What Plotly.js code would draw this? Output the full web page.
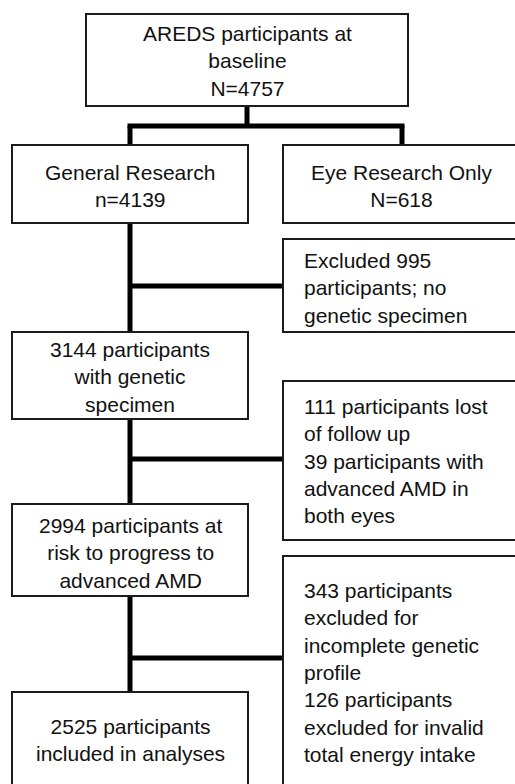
<!DOCTYPE html>
<html>
<head>
<meta charset="utf-8">
<script src="https://cdn.plot.ly/plotly-3.0.1.min.js"></script>
<style>html,body{margin:0;padding:0;background:#fff;}#chart{width:515px;height:784px;}</style>
</head>
<body>
<div id="chart"></div>
<script>
// ---- content (text of each box) ----
const rootText = ["AREDS participants at", "baseline", "N=4757"];
const armTexts = [
  ["General Research", "n=4139"],
  ["Eye Research Only", "N=618"]
];
const mainTexts = [
  ["3144 participants", "with genetic", "specimen"],
  ["2994 participants at", "risk to progress to", "advanced AMD"],
  ["2525 participants", "included in analyses"]
];
const exclusionTexts = [
  ["Excluded 995", "participants; no", "genetic specimen"],
  ["111 participants lost", "of follow up", "39 participants with", "advanced AMD in", "both eyes"],
  ["343 participants", "excluded for", "incomplete genetic", "profile", "126 participants", "excluded for invalid", "total energy intake"]
];

// ---- layout geometry (pixel space of the 515x784 canvas) ----
const rootBox = {x0: 86, x1: 408, y0: 14, y1: 106, cy: 61};
const armBoxes = [
  {x0: 12, x1: 248, y0: 145, y1: 223, cy: 186},
  {x0: 283, x1: 519, y0: 145, y1: 223, cy: 186}
];
const mainBoxes = [
  {x0: 12, x1: 248, y0: 332, y1: 419, cy: 377},
  {x0: 12, x1: 248, y0: 504, y1: 596, cy: 553},
  {x0: 12, x1: 248, y0: 692, y1: 800, cy: 740}
];
const exclBoxes = [
  {x0: 283, x1: 519, y0: 239, y1: 332, cy: 288, branchY: 286},
  {x0: 283, x1: 519, y0: 381, y1: 540, cy: 461, branchY: 459},
  {x0: 283, x1: 519, y0: 556, y1: 800, cy: 672, branchY: 658}
];
const trunkX = 130;
const splitY = 126;

const FONT = {family: "Liberation Sans, Arial, Helvetica, sans-serif", size: 21, color: "#111"};
const boxLine = {color: "#1c1c1c", width: 2};
const connLine = {color: "#000", width: 5};

const shapes = [];
const annotations = [];

function addBox(b, lines, align) {
  shapes.push({type: "rect", xref: "x", yref: "y", x0: b.x0, x1: b.x1, y0: b.y0, y1: b.y1, line: boxLine, fillcolor: "rgba(0,0,0,0)"});
  const centred = align === "center";
  annotations.push({
    xref: "x", yref: "y",
    x: centred ? (b.x0 + b.x1) / 2 : b.x0 + 20,
    y: b.cy,
    xanchor: centred ? "center" : "left",
    yanchor: "middle",
    align: align,
    showarrow: false,
    borderpad: 0,
    text: lines.join("<br>"),
    font: FONT
  });
}
function seg(x0, y0, x1, y1) {
  shapes.push({type: "line", xref: "x", yref: "y", x0: x0, y0: y0, x1: x1, y1: y1, line: connLine, layer: "below"});
}

addBox(rootBox, rootText, "center");
armBoxes.forEach((b, i) => addBox(b, armTexts[i], "center"));
mainBoxes.forEach((b, i) => addBox(b, mainTexts[i], "center"));
exclBoxes.forEach((b, i) => addBox(b, exclusionTexts[i], "left"));

// connectors
const rootCx = 247;
seg(rootCx, rootBox.y1, rootCx, splitY);
seg(trunkX - 2.5, splitY, 402 + 2.5, splitY);
seg(trunkX, splitY, trunkX, armBoxes[0].y0);
seg(402, splitY, 402, armBoxes[1].y0);
// trunk
seg(trunkX, armBoxes[0].y1, trunkX, mainBoxes[0].y0);
seg(trunkX, mainBoxes[0].y1, trunkX, mainBoxes[1].y0);
seg(trunkX, mainBoxes[1].y1, trunkX, mainBoxes[2].y0);
// branches to exclusions
exclBoxes.forEach(b => seg(trunkX, b.branchY, b.x0, b.branchY));

const layout = {
  width: 515, height: 784,
  margin: {l: 0, r: 0, t: 0, b: 0},
  paper_bgcolor: "#fff", plot_bgcolor: "#fff",
  xaxis: {range: [0, 515], visible: false, fixedrange: true},
  yaxis: {range: [784, 0], visible: false, fixedrange: true},
  showlegend: false,
  shapes: shapes,
  annotations: annotations
};

Plotly.newPlot("chart", [{x: [], y: [], type: "scatter", mode: "markers", hoverinfo: "skip"}], layout, {displayModeBar: false, staticPlot: true});
</script>
</body>
</html>
